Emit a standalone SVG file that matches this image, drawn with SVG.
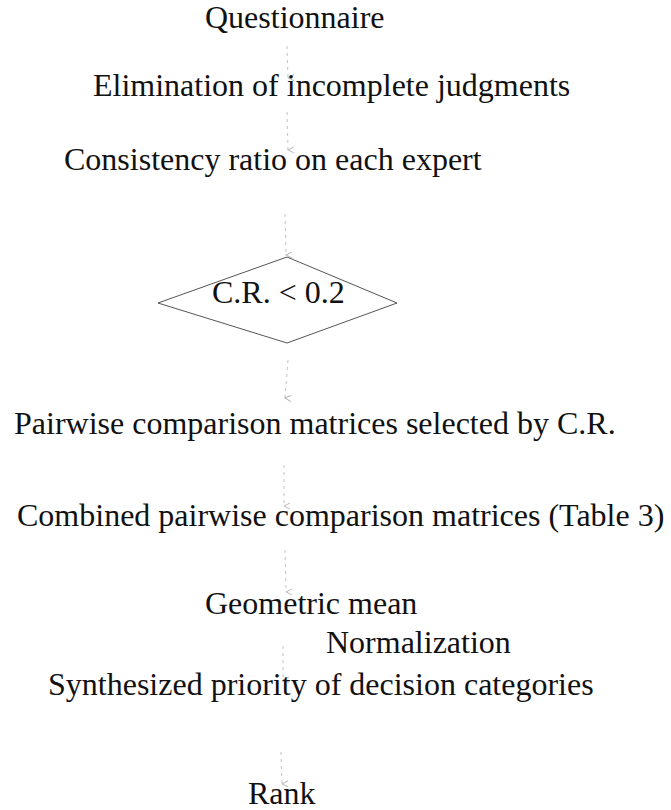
<svg xmlns="http://www.w3.org/2000/svg" width="671" height="810" viewBox="0 0 671 810">
<style>
  text { font-family: 'Liberation Serif', 'Times New Roman', 'DejaVu Serif', serif; font-size: 32px; fill: #111; }
  .c { stroke: #c4c4c4; stroke-width: 1; fill: none; stroke-dasharray: 3 4; }
  .d { stroke: #555; stroke-width: 1; fill: #fff; }
</style>
<defs>
  <marker id="ah" markerWidth="8" markerHeight="8" refX="4" refY="7" orient="auto" markerUnits="userSpaceOnUse">
    <path d="M1,1 L4,7 L7,1" fill="none" stroke="#bbb" stroke-width="1"/>
  </marker>
</defs>
<rect width="671" height="810" fill="#fff"/>
<g id="connectors">
  <line class="c" x1="287" y1="46" x2="288" y2="78" marker-end="url(#ah)"/>
  <line class="c" x1="287" y1="112" x2="288" y2="150" marker-end="url(#ah)"/>
  <line class="c" x1="285" y1="214" x2="286" y2="255" marker-end="url(#ah)"/>
  <line class="c" x1="288" y1="360" x2="285" y2="398" marker-end="url(#ah)"/>
  <line class="c" x1="284" y1="465" x2="284" y2="506" marker-end="url(#ah)"/>
  <line class="c" x1="285" y1="550" x2="286" y2="592" marker-end="url(#ah)"/>
  <line class="c" x1="283" y1="646" x2="283" y2="680" marker-end="url(#ah)"/>
  <line class="c" x1="281" y1="752" x2="282" y2="784" marker-end="url(#ah)"/>
</g>
<g id="questionnaire"><text x="205" y="28">Questionnaire</text></g>
<g id="elimination"><text x="93" y="96">Elimination of incomplete judgments</text></g>
<g id="consistency"><text x="64" y="170">Consistency ratio on each expert</text></g>
<g id="decision">
  <polygon class="d" points="287,257 397,303 287,343 158,303"/>
  <text x="212" y="303">C.R. &lt; 0.2</text>
</g>
<g id="pairwise"><text x="14" y="434">Pairwise comparison matrices selected by C.R.</text></g>
<g id="combined"><text x="17" y="526">Combined pairwise comparison matrices (Table 3)</text></g>
<g id="geometric"><text x="205" y="614">Geometric mean</text></g>
<g id="normalization"><text x="326" y="653">Normalization</text></g>
<g id="synthesized"><text x="48" y="695">Synthesized priority of decision categories</text></g>
<g id="rank"><text x="248" y="804">Rank</text></g>
</svg>
